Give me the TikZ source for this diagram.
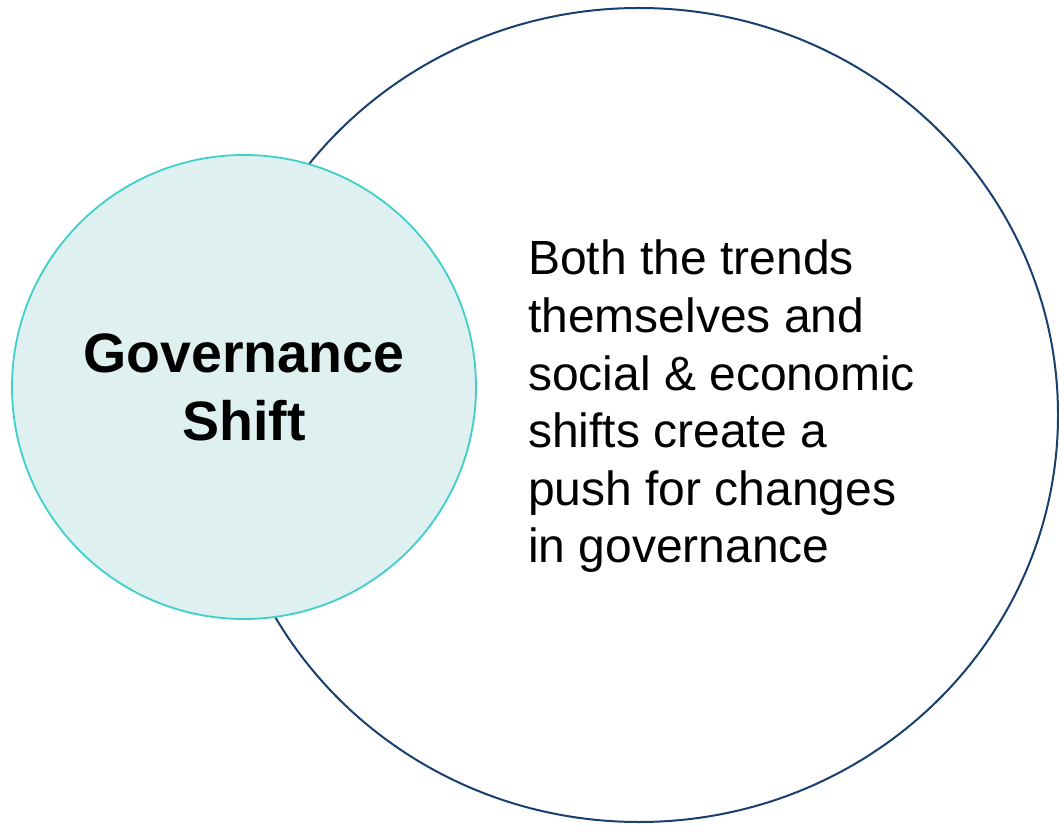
\documentclass[tikz,border=0pt]{standalone}
\usepackage{fontspec}
\usetikzlibrary{shapes.geometric}
\setmainfont{Liberation Sans}
\definecolor{navy}{HTML}{17406F}
\definecolor{teal}{HTML}{3ECFCB}
\definecolor{palefill}{HTML}{DFF0F0}
\begin{document}
\begin{tikzpicture}[x=1pt,y=1pt,
  bigcirc/.style={ellipse,draw=navy,line width=2pt,minimum width=838pt,minimum height=814pt,inner sep=0pt},
  smallcirc/.style={circle,draw=teal,fill=palefill,line width=1.8pt,minimum size=464pt,inner sep=0pt,
    font=\fontsize{55.5}{68}\selectfont\bfseries,align=center},
  body/.style={font=\fontsize{48}{57.6}\selectfont,align=left,inner sep=0pt,anchor=north west}]
\useasboundingbox (0,0) rectangle (1059,825);
\node[bigcirc] (big) at (639,410) {};
\node[smallcirc] (small) at (244,438) {Governance\\Shift};
\node[body] (txt) at (528,585) {Both the trends\\themselves and\\social \& economic\\shifts create a\\push for changes\\in governance};
\end{tikzpicture}
\end{document}
